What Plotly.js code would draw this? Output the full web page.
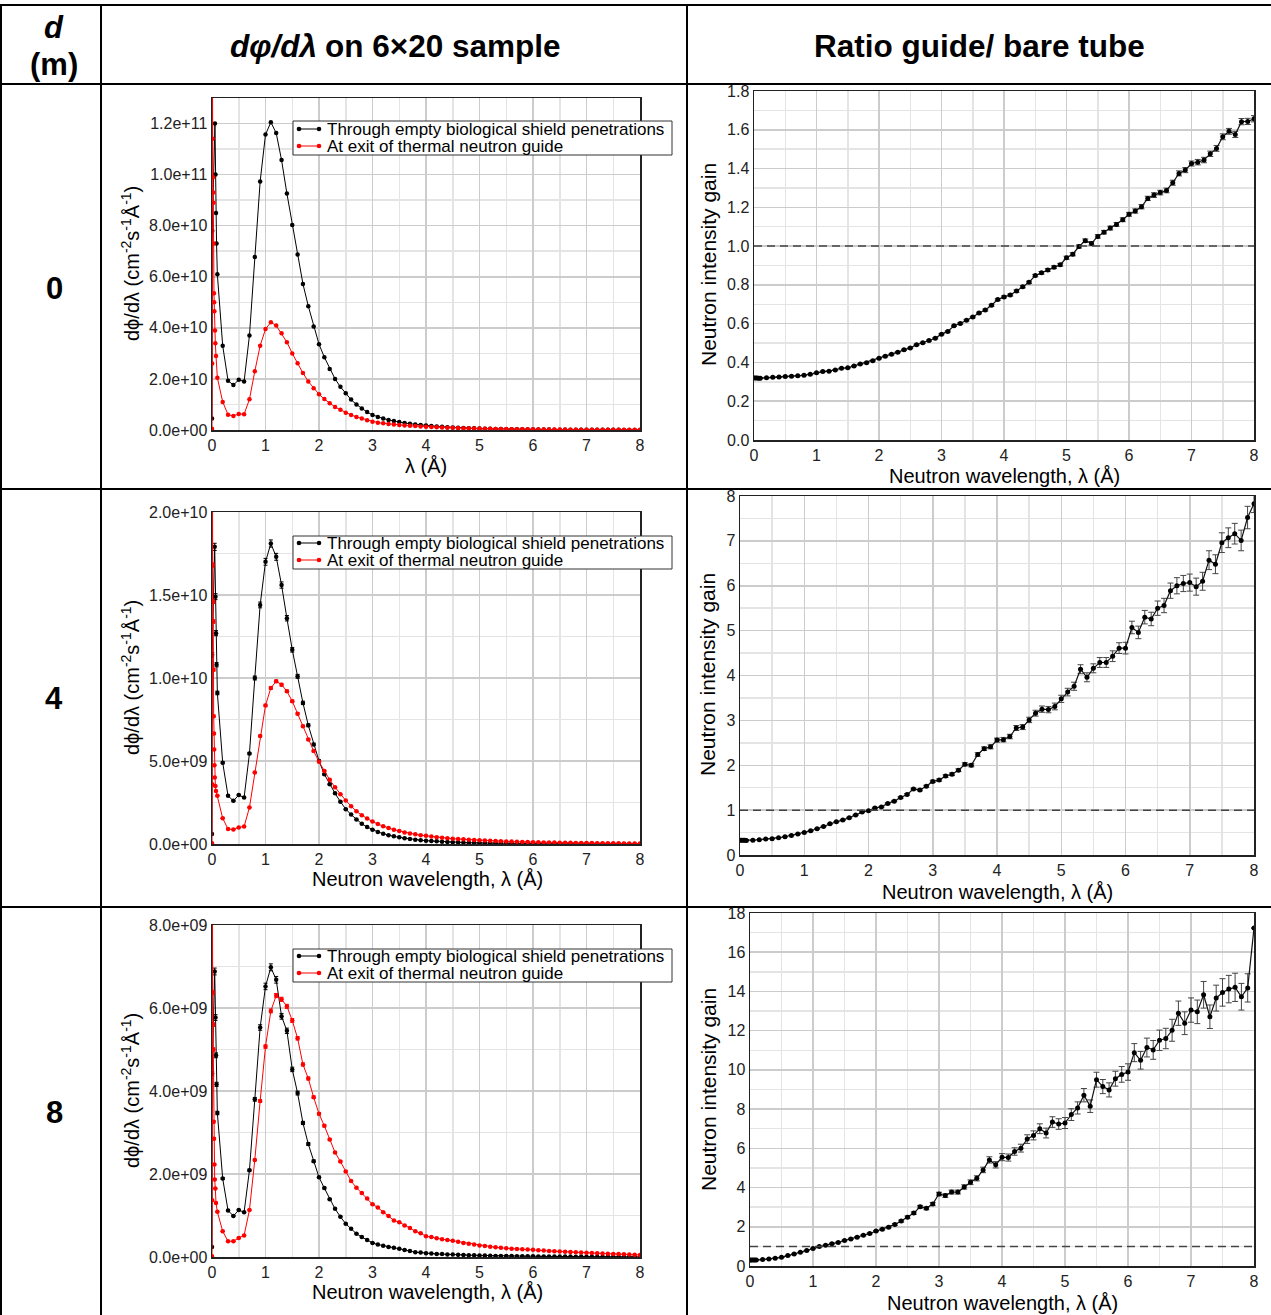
<!DOCTYPE html>
<html><head><meta charset="utf-8">
<script src="https://cdn.plot.ly/plotly-3.0.1.min.js"></script>
<style>html,body{margin:0;padding:0;background:#fff;} #chart{width:1271px;height:1315px;}</style>
</head><body><div id="chart"></div>
<script>
// ---------------- DATA ----------------
const lambda = [0.1,0.2,0.3,0.4,0.5,0.6,0.7,0.8,0.9,1.0,
 1.1,1.2,1.3,1.4,1.5,1.6,1.7,1.8,1.9,2.0,
 2.1,2.2,2.3,2.4,2.5,2.6,2.7,2.8,2.9,3.0,
 3.1,3.2,3.3,3.4,3.5,3.6,3.7,3.8,3.9,4.0,
 4.1,4.2,4.3,4.4,4.5,4.6,4.7,4.8,4.9,5.0,
 5.1,5.2,5.3,5.4,5.5,5.6,5.7,5.8,5.9,6.0,
 6.1,6.2,6.3,6.4,6.5,6.6,6.7,6.8,6.9,7.0,
 7.1,7.2,7.3,7.4,7.5,7.6,7.7,7.8,7.9,8.0];

// d = 0 m : flux through empty biological shield penetrations (bare tube)
const d0BareNearX = [0, 0.005, 0.055, 0.065, 0.075, 0.085];
const d0BareNearY = [4.5e9, 7.8e10, 1.2e11, 1.0e11, 8.5e10, 7.3e10];
const d0Bare = [6.1e10,3.3e10,1.93e10,1.76e10,1.97e10,1.9e10,3.7e10,6.77e10,9.73e10,1.157e11,
 1.205e11,1.163e11,1.057e11,9.26e10,8.03e10,6.87e10,5.72e10,4.85e10,4.05e10,3.36e10,
 2.85e10,2.39e10,2.0e10,1.69e10,1.44e10,1.19e10,1.0e10,8.4e9,7.0e9,5.9e9,
 5.1e9,4.5e9,3.95e9,3.5e9,3.1e9,2.75e9,2.45e9,2.2e9,1.95e9,1.75e9,
 1.55e9,1.4e9,1.25e9,1.12e9,1.0e9,9.0e8,8.0e8,7.2e8,6.5e8,5.8e8,
 5.2e8,4.7e8,4.2e8,3.8e8,3.4e8,3.1e8,2.8e8,2.5e8,2.3e8,2.1e8,
 1.9e8,1.7e8,1.55e8,1.4e8,1.3e8,1.18e8,1.07e8,9.8e7,9.0e7,8.2e7,
 7.5e7,6.9e7,6.3e7,5.8e7,5.3e7,4.9e7,4.5e7,4.1e7,3.8e7,3.5e7];
// d = 0 m : flux at exit of thermal neutron guide
const d0GuideNearX = [0, 0.003, 0.008, 0.0125, 0.019, 0.025, 0.028, 0.031, 0.037, 0.04, 0.044, 0.056, 0.0625, 0.075];
const d0GuideNearY = [5e8, 2.6e10, 1.5e11, 1.14e11, 9.9e10, 9.3e10, 8.9e10, 7.3e10, 5.35e10, 5.0e10, 4.65e10, 3.9e10, 3.4e10, 2.9e10];
const d0Guide = [2.05e10,1.1e10,6.0e9,5.5e9,6.3e9,6.2e9,1.2e10,2.3e10,3.3e10,3.95e10,
 4.22e10,4.09e10,3.79e10,3.44e10,3.0e10,2.61e10,2.23e10,1.9e10,1.63e10,1.4e10,
 1.21e10,1.05e10,9.0e9,7.9e9,6.8e9,5.9e9,5.1e9,4.5e9,3.8e9,3.25e9,
 2.87e9,2.66e9,2.38e9,2.17e9,1.97e9,1.8e9,1.65e9,1.53e9,1.41e9,1.29e9,
 1.16e9,1.08e9,9.9e8,9.1e8,8.5e8,7.8e8,7.0e8,6.4e8,5.9e8,5.5e8,
 5.0e8,4.7e8,4.3e8,3.9e8,3.6e8,3.3e8,3.1e8,2.8e8,2.6e8,2.45e8,
 2.24e8,2.05e8,1.94e8,1.77e8,1.66e8,1.52e8,1.42e8,1.35e8,1.25e8,1.17e8,
 1.07e8,9.9e7,9.3e7,8.7e7,8.3e7,7.8e7,7.1e7,6.7e7,6.2e7,5.8e7];

// d = 4 m
const d4BareNearX = [0, 0.003, 0.05, 0.065, 0.075, 0.085];
const d4BareNearY = [6e8, 1.14e10, 1.79e10, 1.49e10, 1.27e10, 1.08e10];
const d4Bare = [9.1e9,4.9e9,2.9e9,2.6e9,2.95e9,2.8e9,5.45e9,1.0e10,1.44e10,1.7e10,
 1.81e10,1.73e10,1.56e10,1.36e10,1.17e10,1.01e10,8.5e9,7.15e9,6.0e9,5.0e9,
 4.2e9,3.6e9,3.05e9,2.55e9,2.1e9,1.77e9,1.47e9,1.22e9,1.02e9,8.6e8,
 7.3e8,6.2e8,5.3e8,4.6e8,4.0e8,3.5e8,3.0e8,2.6e8,2.3e8,2.0e8,
 1.8e8,1.6e8,1.4e8,1.25e8,1.1e8,9.8e7,8.8e7,7.9e7,7.1e7,6.4e7,
 5.7e7,5.1e7,4.6e7,4.2e7,3.8e7,3.4e7,3.1e7,2.8e7,2.5e7,2.3e7,
 2.1e7,1.9e7,1.7e7,1.6e7,1.4e7,1.3e7,1.2e7,1.1e7,1.0e7,9.0e6,
 8.5e6,7.8e6,7.1e6,6.5e6,6.0e6,5.5e6,5.0e6,4.6e6,4.2e6,3.9e6];
const d4GuideNearX = [0, 0.003, 0.008, 0.0125, 0.019, 0.025, 0.028, 0.031, 0.037, 0.04, 0.044, 0.05, 0.062, 0.075];
const d4GuideNearY = [5e7, 3.6e9, 2.4e10, 1.68e10, 1.46e10, 1.34e10, 1.05e10, 7.7e9, 6.65e9, 5.7e9, 4.75e9, 4.0e9, 3.5e9, 3.2e9];
const d4Guide = [2.9e9,1.55e9,9.0e8,8.7e8,1.0e9,1.05e9,2.2e9,4.3e9,6.5e9,8.35e9,
 9.4e9,9.8e9,9.6e9,9.2e9,8.6e9,7.85e9,7.1e9,6.3e9,5.6e9,4.95e9,
 4.4e9,3.87e9,3.42e9,3.0e9,2.62e9,2.28e9,1.97e9,1.73e9,1.53e9,1.35e9,
 1.2e9,1.07e9,9.6e8,8.6e8,7.8e8,7.0e8,6.4e8,5.8e8,5.3e8,4.9e8,
 4.5e8,4.1e8,3.8e8,3.5e8,3.2e8,3.0e8,2.8e8,2.6e8,2.4e8,2.2e8,
 2.05e8,1.9e8,1.8e8,1.68e8,1.57e8,1.46e8,1.36e8,1.27e8,1.18e8,1.1e8,
 1.04e8,9.7e7,9.1e7,8.5e7,7.9e7,7.4e7,7.0e7,6.6e7,6.2e7,5.8e7,
 5.4e7,5.1e7,4.8e7,4.5e7,4.2e7,3.9e7,3.7e7,3.5e7,3.3e7,3.1e7];

// d = 8 m
const d8BareNearX = [0, 0.003, 0.05, 0.065, 0.075, 0.085];
const d8BareNearY = [2.4e8, 4.42e9, 6.88e9, 5.77e9, 4.86e9, 4.16e9];
const d8Bare = [3.47e9,1.89e9,1.12e9,9.9e8,1.13e9,1.08e9,2.09e9,3.8e9,5.53e9,6.52e9,
 6.98e9,6.68e9,5.8e9,5.45e9,4.52e9,3.95e9,3.23e9,2.72e9,2.31e9,1.92e9,
 1.66e9,1.39e9,1.16e9,9.7e8,8.0e8,6.8e8,5.6e8,4.8e8,4.1e8,3.4e8,
 3.0e8,2.7e8,2.4e8,2.2e8,1.97e8,1.7e8,1.43e8,1.15e8,1.1e8,9.0e7,
 8.5e7,7.4e7,7.2e7,6.3e7,5.9e7,5.3e7,5.0e7,4.4e7,4.1e7,3.8e7,
 3.4e7,3.1e7,2.7e7,2.7e7,2.3e7,2.2e7,2.1e7,1.9e7,1.8e7,1.8e7,
 1.5e7,1.5e7,1.3e7,1.3e7,1.2e7,1.1e7,1.0e7,9.0e6,9.2e6,7.7e6,
 7.4e6,6.7e6,6.9e6,6.0e6,5.5e6,5.2e6,4.9e6,4.9e6,4.4e6,3.0e6];
const d8GuideNearX = [0, 0.003, 0.008, 0.0125, 0.019, 0.025, 0.031, 0.037, 0.044, 0.05, 0.062, 0.075];
const d8GuideNearY = [2e7, 1.37e9, 9e9, 6.37e9, 5.6e9, 5.0e9, 3.26e9, 2.85e9, 2.23e9, 1.87e9, 1.65e9, 1.3e9];
const d8Guide = [1.09e9,6.2e8,3.8e8,3.8e8,4.6e8,5.2e8,1.13e9,2.34e9,3.76e9,5.07e9,
 5.93e9,6.3e9,6.21e9,6.04e9,5.7e9,5.27e9,4.64e9,4.3e9,3.85e9,3.45e9,
 3.16e9,2.83e9,2.52e9,2.3e9,2.06e9,1.83e9,1.67e9,1.54e9,1.41e9,1.27e9,
 1.19e9,1.08e9,9.9e8,8.8e8,8.4e8,7.6e8,7.0e8,6.2e8,5.7e8,5.0e8,
 4.8e8,4.5e8,4.3e8,4.1e8,3.9e8,3.7e8,3.4e8,3.2e8,3.0e8,2.8e8,
 2.65e8,2.5e8,2.35e8,2.2e8,2.1e8,2.0e8,1.9e8,1.85e8,1.8e8,1.75e8,
 1.65e8,1.55e8,1.45e8,1.4e8,1.3e8,1.25e8,1.2e8,1.15e8,1.1e8,1.0e8,
 9.5e7,9.0e7,8.5e7,8.0e7,7.5e7,7.0e7,6.5e7,6.0e7,5.5e7,5.0e7];

// Ratio guide / bare tube (neutron intensity gain)
const ratioNearX = [0, 0.025, 0.05, 0.075];
const ratio0Near = [0.32, 0.32, 0.32, 0.318];
const ratio0NearErr = [0.002, 0.002, 0.002, 0.002];
const ratio0 = [0.319,0.321,0.323,0.325,0.327,0.329,0.331,0.334,0.339,0.347,
 0.353,0.355,0.361,0.37,0.372,0.382,0.392,0.399,0.409,0.421,
 0.432,0.442,0.453,0.465,0.475,0.491,0.501,0.513,0.525,0.546,
 0.56,0.589,0.601,0.618,0.634,0.655,0.67,0.695,0.724,0.738,
 0.748,0.768,0.791,0.813,0.848,0.862,0.877,0.891,0.904,0.94,
 0.958,0.998,1.028,1.014,1.05,1.072,1.093,1.112,1.136,1.164,
 1.181,1.203,1.246,1.263,1.276,1.287,1.327,1.375,1.392,1.426,
 1.433,1.444,1.476,1.504,1.564,1.592,1.576,1.642,1.643,1.657];
const ratio0Err = [0.002,0.002,0.002,0.002,0.002,0.002,0.002,0.002,0.002,0.002,
 0.002,0.002,0.002,0.002,0.002,0.002,0.002,0.002,0.002,0.002,
 0.003,0.003,0.003,0.003,0.003,0.003,0.003,0.003,0.003,0.003,
 0.003,0.003,0.004,0.004,0.004,0.004,0.005,0.005,0.005,0.005,
 0.005,0.006,0.006,0.006,0.006,0.007,0.007,0.007,0.007,0.008,
 0.008,0.008,0.009,0.009,0.009,0.009,0.01,0.01,0.01,0.01,
 0.011,0.011,0.011,0.012,0.012,0.012,0.013,0.013,0.013,0.013,
 0.014,0.014,0.014,0.015,0.015,0.015,0.016,0.016,0.016,0.016];

const ratio4Near = [0.33, 0.33, 0.33, 0.33];
const ratio4NearErr = [0.005, 0.005, 0.005, 0.005];
const ratio4 = [0.325,0.326,0.34,0.356,0.363,0.385,0.407,0.437,0.467,0.5,
 0.54,0.585,0.637,0.696,0.74,0.778,0.83,0.89,0.956,0.985,
 1.05,1.07,1.15,1.2,1.28,1.35,1.47,1.45,1.53,1.64,
 1.67,1.76,1.8,1.89,2.02,2.0,2.24,2.37,2.41,2.56,
 2.57,2.64,2.83,2.85,3.01,3.16,3.25,3.24,3.31,3.48,
 3.63,3.76,4.14,3.96,4.16,4.29,4.29,4.43,4.61,4.61,
 5.07,4.96,5.3,5.26,5.5,5.56,5.89,6.0,6.05,6.07,
 5.98,6.1,6.57,6.48,6.96,7.07,7.16,7.01,7.52,7.83];
const ratio4Err = [0.005,0.005,0.005,0.005,0.005,0.005,0.005,0.005,0.005,0.005,
 0.008,0.008,0.008,0.008,0.008,0.01,0.01,0.01,0.01,0.01,
 0.012,0.012,0.015,0.015,0.018,0.018,0.02,0.02,0.022,0.025,
 0.025,0.028,0.03,0.03,0.035,0.035,0.04,0.04,0.045,0.045,
 0.05,0.05,0.055,0.055,0.06,0.065,0.07,0.07,0.075,0.08,
 0.085,0.09,0.1,0.1,0.1,0.11,0.11,0.12,0.12,0.13,
 0.14,0.14,0.15,0.15,0.16,0.16,0.17,0.18,0.18,0.19,
 0.19,0.2,0.21,0.21,0.22,0.22,0.23,0.23,0.25,0.2];

const ratio8Near = [0.3, 0.3, 0.3, 0.3];
const ratio8NearErr = [0.01, 0.01, 0.01, 0.01];
const ratio8 = [0.31,0.33,0.36,0.4,0.44,0.53,0.61,0.7,0.79,0.89,
 0.99,1.06,1.14,1.2,1.3,1.38,1.47,1.57,1.66,1.78,
 1.88,1.98,2.12,2.29,2.49,2.7,3.02,2.94,3.16,3.67,
 3.59,3.77,3.77,4.03,4.27,4.47,4.9,5.41,5.16,5.55,
 5.53,5.84,6.01,6.47,6.66,7.0,6.78,7.34,7.24,7.29,
 7.72,8.06,8.71,8.15,9.5,9.15,8.98,9.55,9.77,9.89,
 10.88,10.49,11.14,11.02,11.51,11.6,12.02,12.89,12.38,13.05,
 12.96,13.83,12.71,13.66,13.95,14.12,14.21,13.73,14.18,17.23];
const ratio8Err = [0.01,0.01,0.01,0.01,0.01,0.01,0.01,0.01,0.01,0.01,
 0.02,0.02,0.02,0.02,0.02,0.03,0.03,0.03,0.03,0.03,
 0.04,0.04,0.05,0.05,0.06,0.06,0.07,0.07,0.08,0.09,
 0.09,0.1,0.1,0.11,0.12,0.13,0.14,0.16,0.16,0.18,
 0.18,0.19,0.2,0.22,0.23,0.25,0.25,0.27,0.27,0.28,
 0.3,0.31,0.34,0.32,0.38,0.36,0.36,0.38,0.4,0.42,
 0.46,0.45,0.48,0.48,0.52,0.52,0.56,0.62,0.58,0.62,
 0.6,0.68,0.6,0.66,0.7,0.7,0.72,0.68,0.72,0];

// Tick labels
const fluxTicks0 = [0, 2e10, 4e10, 6e10, 8e10, 1e11, 1.2e11];
const fluxLabels0 = ["0.0e+00","2.0e+10","4.0e+10","6.0e+10","8.0e+10","1.0e+11","1.2e+11"];
const fluxTicks4 = [0, 5e9, 1e10, 1.5e10, 2e10];
const fluxLabels4 = ["0.0e+00","5.0e+09","1.0e+10","1.5e+10","2.0e+10"];
const fluxTicks8 = [0, 2e9, 4e9, 6e9, 8e9];
const fluxLabels8 = ["0.0e+00","2.0e+09","4.0e+09","6.0e+09","8.0e+09"];

const seriesNames = ["Through empty biological shield penetrations", "At exit of thermal neutron guide"];
const rowLabels = ["0", "4", "8"];

// ---------------- LAYOUT HELPERS ----------------
const W = 1271, H = 1315;
const px = v => v / W;
const py = v => 1 - v / H;
const FONT = "Liberation Sans, Arial, Helvetica, sans-serif";

function xAxisCfg(x0, x1, anchor) {
  return {domain:[px(x0), px(x1)], range:[0, 8], anchor:anchor, tickmode:'linear', tick0:0, dtick:1,
    ticks:'', showline:true, mirror:true, linecolor:'#222', linewidth:1.5, zeroline:false,
    showgrid:true, gridcolor:'#cccccc', gridwidth:1.5,
    minor:{tickmode:'linear', tick0:0, dtick:0.5, showgrid:true, gridcolor:'#e4e4e4', gridwidth:1.5, ticks:''},
    tickfont:{family:FONT, size:16, color:'#222'}, fixedrange:true};
}
function yAxisCfg(y0, y1, anchor, range, major, minor, tickvals, ticktext, fmt) {
  const a = {domain:[py(y1), py(y0)], range:range, anchor:anchor,
    ticks:'', showline:true, mirror:true, linecolor:'#222', linewidth:1.5, zeroline:false,
    showgrid:true, gridcolor:'#cccccc', gridwidth:1.5,
    minor:{tickmode:'linear', tick0:0, dtick:minor, showgrid:true, gridcolor:'#e4e4e4', gridwidth:1.5, ticks:''},
    tickfont:{family:FONT, size:16, color:'#222'}, fixedrange:true};
  if (tickvals) { a.tickmode = 'array'; a.tickvals = tickvals; a.ticktext = ticktext; }
  else { a.tickmode = 'linear'; a.tick0 = 0; a.dtick = major; if (fmt) a.tickformat = fmt; }
  return a;
}

const traces = [];
function fluxTraces(xa, ya, bx, by, bv, gx, gy, gv, withErr) {
  traces.push({x: bx.concat(lambda), y: by.concat(bv), xaxis:xa, yaxis:ya, type:'scatter', mode:'lines+markers',
    line:{color:'#000', width:1}, marker:{color:'#000', size:4.5}, showlegend:false,
    error_y: withErr ? {type:'percent', value:1.2, color:'#000', thickness:1, width:2} : {visible:false}});
  traces.push({x: gx.concat(lambda), y: gy.concat(gv), xaxis:xa, yaxis:ya, type:'scatter', mode:'lines+markers',
    line:{color:'#ff0000', width:1}, marker:{color:'#ff0000', size:4.5}, showlegend:false,
    error_y: withErr ? {type:'percent', value:0.8, color:'#ff0000', thickness:1, width:2} : {visible:false}});
}
function ratioTrace(xa, ya, near, nearErr, vals, errs) {
  traces.push({x: ratioNearX.concat(lambda), y: near.concat(vals), xaxis:xa, yaxis:ya, type:'scatter', mode:'lines+markers',
    line:{color:'#111', width:1.2}, marker:{color:'#000', size:5}, showlegend:false,
    error_y:{type:'data', array: nearErr.concat(errs), color:'#444', thickness:1, width:3}});
}

fluxTraces('x', 'y', d0BareNearX, d0BareNearY, d0Bare, d0GuideNearX, d0GuideNearY, d0Guide, false);
ratioTrace('x2', 'y2', ratio0Near, ratio0NearErr, ratio0, ratio0Err);
fluxTraces('x3', 'y3', d4BareNearX, d4BareNearY, d4Bare, d4GuideNearX, d4GuideNearY, d4Guide, true);
ratioTrace('x4', 'y4', ratio4Near, ratio4NearErr, ratio4, ratio4Err);
fluxTraces('x5', 'y5', d8BareNearX, d8BareNearY, d8Bare, d8GuideNearX, d8GuideNearY, d8Guide, true);
ratioTrace('x6', 'y6', ratio8Near, ratio8NearErr, ratio8, ratio8Err);

const layout = {
  width: W, height: H, margin:{l:0, r:0, t:0, b:0},
  paper_bgcolor:'#fff', plot_bgcolor:'#fff', showlegend:false,
  font:{family:FONT, color:'#000'},
  xaxis:  xAxisCfg(212, 640, 'y'),
  yaxis:  yAxisCfg(98, 430, 'x', [0, 1.3e11], null, 1e10, fluxTicks0, fluxLabels0),
  xaxis2: xAxisCfg(754, 1254, 'y2'),
  yaxis2: yAxisCfg(91, 440, 'x2', [0, 1.8], 0.2, 0.1, null, null, '.1f'),
  xaxis3: xAxisCfg(212, 640, 'y3'),
  yaxis3: yAxisCfg(512, 844, 'x3', [0, 2e10], null, 2.5e9, fluxTicks4, fluxLabels4),
  xaxis4: xAxisCfg(740, 1254, 'y4'),
  yaxis4: yAxisCfg(496, 855, 'x4', [0, 8], 1, 0.5, null, null, 'd'),
  xaxis5: xAxisCfg(212, 640, 'y5'),
  yaxis5: yAxisCfg(925, 1257, 'x5', [0, 8e9], null, 1e9, fluxTicks8, fluxLabels8),
  xaxis6: xAxisCfg(750, 1254, 'y6'),
  yaxis6: yAxisCfg(913, 1266, 'x6', [0, 18], 2, 1, null, null, 'd'),
  shapes: [], annotations: []
};

// dashed unity lines in ratio panels
[['x2','y2'],['x4','y4'],['x6','y6']].forEach(([xa, ya]) => {
  layout.shapes.push({type:'line', xref: xa + ' domain', yref: ya, x0:0, x1:1, y0:1, y1:1,
    line:{color:'#444', width:1.5, dash:'8px,5px'}, layer:'above'});
});

// table grid
function hLine(y) { layout.shapes.push({type:'line', xref:'paper', yref:'paper', x0:0, x1:1, y0:py(y), y1:py(y), line:{color:'#000', width:2}}); }
function vLine(x) { layout.shapes.push({type:'line', xref:'paper', yref:'paper', x0:px(x), x1:px(x), y0:0, y1:py(5), line:{color:'#000', width:2}}); }
[5, 84, 489, 907].forEach(hLine);
[1, 101, 687].forEach(vLine);

function ann(text, x, y, size, opts, fontExtra) {
  layout.annotations.push(Object.assign({text:text, x:px(x), y:py(y), xref:'paper', yref:'paper', showarrow:false,
    xanchor:'center', yanchor:'middle', font:Object.assign({family:FONT, size:size, color:'#000'}, fontExtra || {})}, opts || {}));
}
const BOLD = {weight:'bold'};
const BOLDIT = {weight:'bold', style:'italic'};
// header
ann('d', 54, 27, 31, null, BOLDIT);
ann('(m)', 54, 64, 31, null, BOLD);
ann('dφ/dλ', 319, 46, 31.5, {xanchor:'right'}, BOLDIT);
ann('on 6×20 sample', 323, 46, 31.5, {xanchor:'left'}, BOLD);
ann('Ratio guide/ bare tube', 980, 46, 31.5, null, BOLD);
// row labels
ann(rowLabels[0], 54, 288, 31, null, BOLD);
ann(rowLabels[1], 54, 698, 31, null, BOLD);
ann(rowLabels[2], 54, 1112, 31, null, BOLD);

// axis titles
const SUP = s => '<span style="font-size:14px;baseline-shift:super">' + s + '</span>';
const fluxTitle = 'dϕ/dλ (cm' + SUP('-2') + 's' + SUP('-1') + 'Å' + SUP('-1') + ')';
const wlTitle = 'Neutron wavelength, λ (Å)';
const gainTitle = 'Neutron intensity gain';
ann(fluxTitle, 130, 264, 20, {textangle:-90});
ann(fluxTitle, 130, 678, 20, {textangle:-90});
ann(fluxTitle, 130, 1091, 20, {textangle:-90});
ann('λ (Å)', 426, 466, 20);
ann(wlTitle, 427, 879, 20);
ann(wlTitle, 427, 1292, 20);
ann(gainTitle, 708, 265, 21, {textangle:-90});
ann(gainTitle, 708, 675, 21, {textangle:-90});
ann(gainTitle, 708, 1090, 21, {textangle:-90});
ann(wlTitle, 1004, 476, 20);
ann(wlTitle, 997, 892, 20);
ann(wlTitle, 1002, 1303, 20);

// legends for flux panels
function legendBox(top, bottom, row1, row2) {
  layout.shapes.push({type:'rect', xref:'paper', yref:'paper', x0:px(293), x1:px(672), y0:py(bottom), y1:py(top),
    fillcolor:'#fff', line:{color:'#333', width:1}});
  [[row1, '#000'], [row2, '#ff0000']].forEach(([ry, col]) => {
    layout.shapes.push({type:'line', xref:'paper', yref:'paper', x0:px(298), x1:px(320), y0:py(ry), y1:py(ry), line:{color:col, width:1}});
    [299, 319].forEach(cx => layout.shapes.push({type:'circle', xref:'paper', yref:'paper',
      x0:px(cx-2.3), x1:px(cx+2.3), y0:py(ry+2.3), y1:py(ry-2.3), fillcolor:col, line:{color:col, width:0}}));
  });
  ann(seriesNames[0], 325, row1, 17, {xanchor:'left'});
  ann(seriesNames[1], 325, row2, 17, {xanchor:'left'});
}
legendBox(121, 155, 129, 146);
legendBox(536, 569, 543, 560);
legendBox(949, 982, 956, 973);

Plotly.newPlot('chart', traces, layout, {displayModeBar:false, staticPlot:true});
</script></body></html>
